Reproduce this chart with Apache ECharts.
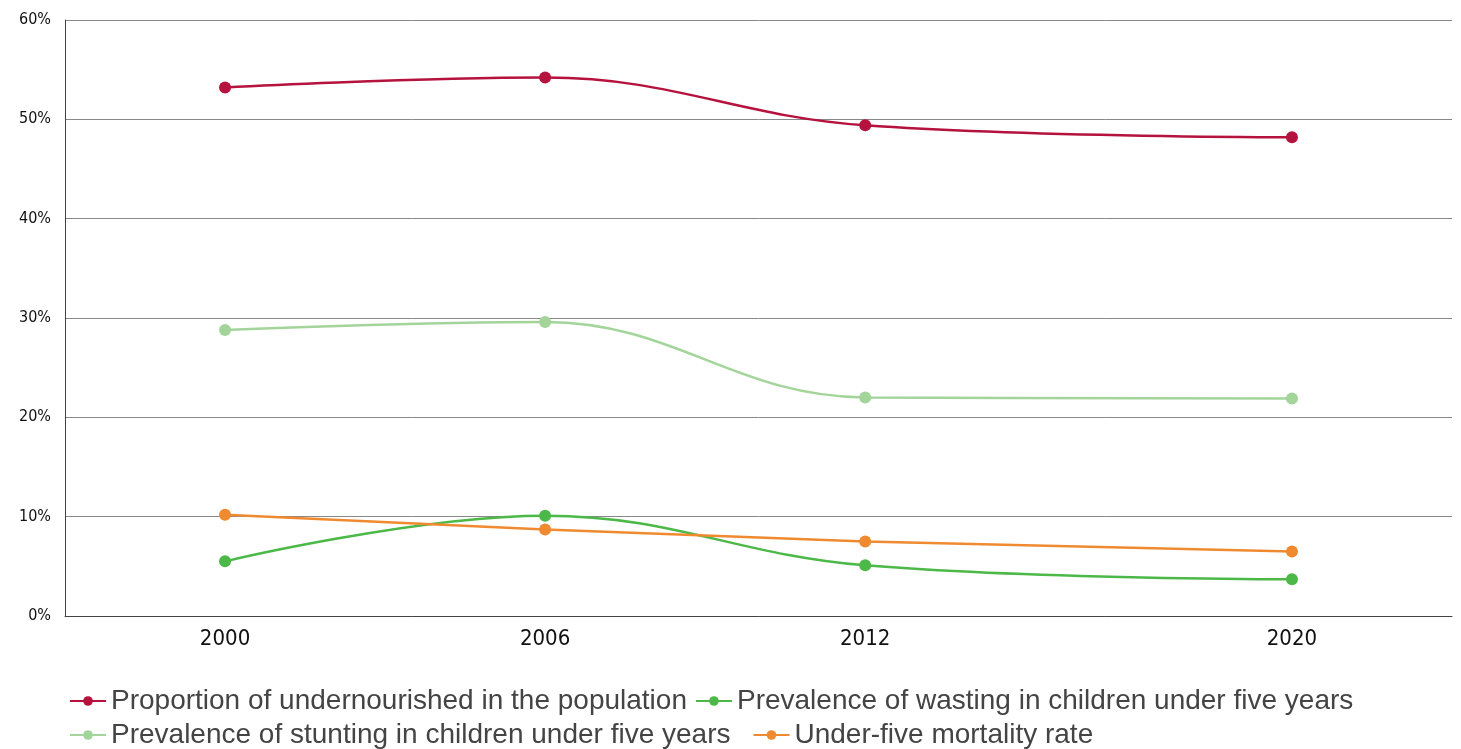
<!DOCTYPE html>
<html><head><meta charset="utf-8">
<script src="https://cdn.jsdelivr.net/npm/echarts@6/dist/echarts.min.js"></script>
<style>html,body{margin:0;background:#fff}#main{width:1461px;height:749px}</style>
</head><body><div id="main"></div>
<script>
// data
var years = [2000, 2006, 2012, 2020];
var undernourished = [53.2, 54.2, 49.4, 48.2];
var wasting = [5.5, 10.1, 5.1, 3.7];
var stunting = [28.8, 29.6, 22.0, 21.9];
var mortality = [10.2, 8.7, 7.5, 6.5];
var names = ['Proportion of undernourished in the population', 'Prevalence of wasting in children under five years',
  'Prevalence of stunting in children under five years', 'Under-five mortality rate'];

function pairs(v) { return years.map(function (y, i) { return [y, v[i]]; }); }
function line(name, vals, color, smooth) {
  return { name: name, type: 'line', data: pairs(vals), smooth: smooth, symbol: 'circle', symbolSize: 12,
    lineStyle: { width: 2.5, color: color }, itemStyle: { color: color } };
}

var myChart = echarts.init(document.getElementById('main'));
var legendText = { fontSize: 28, color: '#444', fontFamily: 'Liberation Sans' };
var option = {
  animation: false,
  grid: { left: 65, right: 9, top: 20, bottom: 133 },
  legend: [
    { data: [names[0], names[1]], left: 64, top: 682, itemWidth: 36, itemHeight: 12, itemGap: 8, textStyle: legendText },
    { data: [names[2], names[3]], left: 64, top: 716, itemWidth: 36, itemHeight: 12, itemGap: 22, textStyle: legendText }
  ],
  xAxis: {
    type: 'value', min: 1997, max: 2023, interval: 1,
    splitLine: { show: false }, axisTick: { show: false },
    axisLine: { lineStyle: { color: '#444' } },
    axisLabel: { fontSize: 22, color: '#111', margin: 12, fontFamily: 'DejaVu Sans Condensed',
      formatter: function (v) { return years.indexOf(v) >= 0 ? String(v) : ''; } }
  },
  yAxis: {
    type: 'value', min: 0, max: 60, interval: 10,
    axisLine: { show: true, lineStyle: { color: '#444' } }, axisTick: { show: false },
    splitLine: { lineStyle: { color: '#888' } },
    axisLabel: { fontSize: 16, color: '#111', margin: 14, fontFamily: 'DejaVu Sans Condensed', formatter: '{value}%' }
  },
  series: [
    line(names[0], undernourished, '#b5123e', 0.4),
    line(names[1], wasting, '#4cb848', 0.4),
    line(names[2], stunting, '#a3d59b', 0.4),
    line(names[3], mortality, '#f08a30', false)
  ]
};
myChart.setOption(option);
</script></body></html>
